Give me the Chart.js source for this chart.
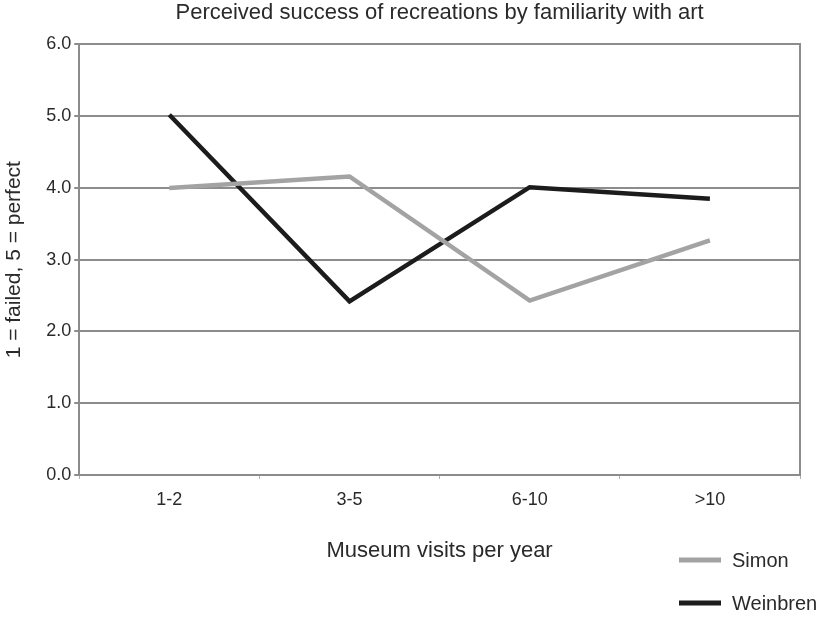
<!DOCTYPE html>
<html>
<head>
<meta charset="utf-8">
<script src="https://cdn.jsdelivr.net/npm/chart.js@4/dist/chart.umd.min.js"></script>
<style>
  html, body { margin: 0; padding: 0; background: #fff; }
  #wrap { width: 821px; height: 620px; position: relative; }
</style>
</head>
<body>
<div id="wrap"><canvas id="c" width="821" height="620"></canvas></div>
<script>
// Museum visit groups and mean ratings for each recreation
const categories = ['1-2', '3-5', '6-10', '>10'];
const simonValues = [4.00, 4.16, 2.43, 3.27];
const weinbrenValues = [5.02, 2.42, 4.01, 3.85];
const yTicks = [0, 1, 2, 3, 4, 5, 6];

const FONT = '"Liberation Sans", Arial, sans-serif';
const TEXT = '#2a2a2a';
const GRID = '#8c8c8c';

// Legend drawn in a stacked column at the lower right
const stackedLegend = {
  id: 'stackedLegend',
  afterDraw(chart) {
    const ctx = chart.ctx;
    const rows = [560, 603];
    ctx.save();
    chart.data.datasets.forEach((ds, i) => {
      const y = rows[i];
      ctx.strokeStyle = ds.borderColor;
      ctx.lineWidth = 5;
      ctx.lineCap = 'butt';
      ctx.beginPath();
      ctx.moveTo(679, y);
      ctx.lineTo(721, y);
      ctx.stroke();
      ctx.fillStyle = TEXT;
      ctx.font = '20px ' + FONT;
      ctx.textBaseline = 'middle';
      ctx.textAlign = 'left';
      ctx.fillText(ds.label, 732, y + 1);
    });
    ctx.restore();
  }
};

new Chart(document.getElementById('c'), {
  type: 'line',
  data: {
    labels: categories,
    datasets: [
      {
        label: 'Simon',
        data: simonValues,
        borderColor: '#a3a3a3',
        borderWidth: 4.5,
        pointRadius: 0,
        tension: 0
      },
      {
        label: 'Weinbren',
        data: weinbrenValues,
        borderColor: '#1c1c1c',
        borderWidth: 4.5,
        pointRadius: 0,
        tension: 0
      }
    ]
  },
  options: {
    responsive: false,
    animation: false,
    layout: { padding: { top: 0, right: 21, bottom: 56, left: 2 } },
    plugins: {
      legend: { display: false },
      tooltip: { enabled: false },
      title: {
        display: true,
        fullSize: false,
        text: 'Perceived success of recreations by familiarity with art',
        color: TEXT,
        font: { family: FONT, size: 22, weight: 'normal' },
        padding: { top: 0, bottom: 18 }
      }
    },
    scales: {
      x: {
        offset: true,
        grid: {
          offset: true,
          drawOnChartArea: false,
          drawTicks: true,
          tickLength: 4,
          color: '#b0b0b0'
        },
        border: { display: true, color: GRID, width: 2 },
        ticks: {
          color: TEXT,
          font: { family: FONT, size: 18 },
          padding: 10
        },
        title: {
          display: true,
          text: 'Museum visits per year',
          color: TEXT,
          font: { family: FONT, size: 22 },
          padding: { top: 17, bottom: 0 }
        }
      },
      y: {
        min: 0,
        max: 6,
        afterBuildTicks(scale) {
          scale.ticks = yTicks.map(v => ({ value: v }));
        },
        grid: {
          color: GRID,
          lineWidth: 2,
          drawTicks: true,
          tickLength: 5
        },
        border: { display: true, color: GRID, width: 2 },
        ticks: {
          color: TEXT,
          font: { family: FONT, size: 18 },
          padding: 3,
          callback: v => Number(v).toFixed(1)
        },
        title: {
          display: true,
          text: '1 = failed, 5 = perfect',
          color: TEXT,
          font: { family: FONT, size: 21 },
          padding: { top: 0, bottom: 16 }
        }
      },
      yRight: {
        position: 'right',
        min: 0,
        max: 6,
        grid: { display: false, drawTicks: false },
        border: { display: true, color: GRID, width: 2 },
        ticks: { display: false }
      }
    }
  },
  plugins: [stackedLegend]
});
</script>
</body>
</html>
